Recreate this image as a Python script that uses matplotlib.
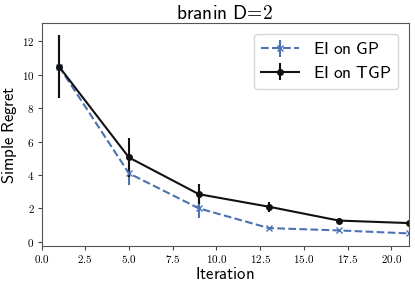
import matplotlib
matplotlib.use("Agg")
import matplotlib.pyplot as plt
from matplotlib.ticker import FuncFormatter

iterations = [1, 5, 9, 13, 17, 21]
gp_mean = [10.5, 4.1, 2.0, 0.82, 0.68, 0.5]
gp_err = [1.9, 0.7, 0.55, 0.08, 0.07, 0.06]
tgp_mean = [10.5, 5.05, 2.85, 2.1, 1.27, 1.12]
tgp_err = [1.9, 1.15, 0.6, 0.3, 0.15, 0.12]


def sf(text):
    # computer-modern sans via mathtext, like the LaTeX original
    return r"$\mathsf{" + text.replace(" ", r"\ ") + "}$"


plt.rcParams["mathtext.fontset"] = "cm"

fig, ax = plt.subplots(figsize=(4.15, 2.89), dpi=100)
ax.errorbar(iterations, gp_mean, yerr=gp_err, color="#4c72b0", ls="--", marker="x",
            ms=5, lw=1.5, label=sf("EI on GP"))
ax.errorbar(iterations, tgp_mean, yerr=tgp_err, color="#111111", ls="-", marker="o",
            ms=4, lw=1.5, label=sf("EI on TGP"))

ax.set_xlim(0, 21)
ax.set_ylim(-0.25, 13.1)
ax.set_yticks([0, 2, 4, 6, 8, 10, 12])
ax.xaxis.set_major_formatter(FuncFormatter(lambda v, p: f"${v:.1f}$"))
ax.yaxis.set_major_formatter(FuncFormatter(lambda v, p: f"${v:.0f}$"))
ax.tick_params(labelsize=8, color="#444444", length=3, pad=2)
for s in ax.spines.values():
    s.set_color("#555555")
ax.set_xlabel(sf("Iteration"), fontsize=12, labelpad=0)
ax.set_ylabel(sf("Simple Regret"), fontsize=12, labelpad=2)
ax.set_title(sf(r"branin D\!=\!2"), fontsize=14, pad=3)
ax.legend(fontsize=12.5, loc="upper right", handlelength=2.2, borderaxespad=0.6,
          labelspacing=0.3)
fig.subplots_adjust(left=0.1, right=0.985, top=0.92, bottom=0.149)
fig.savefig("out.png", dpi=100)
